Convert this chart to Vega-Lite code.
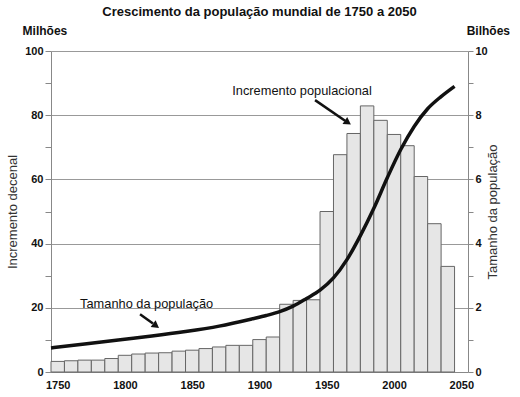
{
  "$schema": "https://vega.github.io/schema/vega-lite/v6.json",
  "width": 417,
  "height": 321,
  "autosize": "none",
  "padding": {"left": 51, "top": 51, "right": 52, "bottom": 25},
  "background": "white",
  "title": {"text": "Crescimento da população mundial de 1750 a 2050", "font": "Liberation Sans", "fontSize": 13, "fontWeight": "bold", "color": "#111", "offset": 6, "anchor": "middle"},
  "config": {"view": {"stroke": null}, "font": "Liberation Sans"},
  "datasets": {
    "barras": [
      {"de": 1750, "ate": 1760, "incremento": 3.3},
      {"de": 1760, "ate": 1770, "incremento": 3.5},
      {"de": 1770, "ate": 1780, "incremento": 3.7},
      {"de": 1780, "ate": 1790, "incremento": 3.7},
      {"de": 1790, "ate": 1800, "incremento": 4.2},
      {"de": 1800, "ate": 1810, "incremento": 5.2},
      {"de": 1810, "ate": 1820, "incremento": 5.6},
      {"de": 1820, "ate": 1830, "incremento": 5.9},
      {"de": 1830, "ate": 1840, "incremento": 6.0},
      {"de": 1840, "ate": 1850, "incremento": 6.5},
      {"de": 1850, "ate": 1860, "incremento": 6.8},
      {"de": 1860, "ate": 1870, "incremento": 7.3},
      {"de": 1870, "ate": 1880, "incremento": 7.8},
      {"de": 1880, "ate": 1890, "incremento": 8.3},
      {"de": 1890, "ate": 1900, "incremento": 8.3},
      {"de": 1900, "ate": 1910, "incremento": 10.1},
      {"de": 1910, "ate": 1920, "incremento": 10.9},
      {"de": 1920, "ate": 1930, "incremento": 21.1},
      {"de": 1930, "ate": 1940, "incremento": 22.3},
      {"de": 1940, "ate": 1950, "incremento": 22.5},
      {"de": 1950, "ate": 1960, "incremento": 50.0},
      {"de": 1960, "ate": 1970, "incremento": 67.7},
      {"de": 1970, "ate": 1980, "incremento": 74.3},
      {"de": 1980, "ate": 1990, "incremento": 82.9},
      {"de": 1990, "ate": 2000, "incremento": 78.4},
      {"de": 2000, "ate": 2010, "incremento": 74.0},
      {"de": 2010, "ate": 2020, "incremento": 70.5},
      {"de": 2020, "ate": 2030, "incremento": 60.9},
      {"de": 2030, "ate": 2040, "incremento": 46.2},
      {"de": 2040, "ate": 2050, "incremento": 32.9}
    ],
    "populacao": [
      {"ano": 1750, "bilhoes": 0.75},
      {"ano": 1775, "bilhoes": 0.87},
      {"ano": 1800, "bilhoes": 1.0},
      {"ano": 1825, "bilhoes": 1.12},
      {"ano": 1850, "bilhoes": 1.26},
      {"ano": 1875, "bilhoes": 1.43},
      {"ano": 1900, "bilhoes": 1.66},
      {"ano": 1910, "bilhoes": 1.76},
      {"ano": 1920, "bilhoes": 1.88},
      {"ano": 1930, "bilhoes": 2.05},
      {"ano": 1940, "bilhoes": 2.29},
      {"ano": 1950, "bilhoes": 2.55},
      {"ano": 1960, "bilhoes": 2.93},
      {"ano": 1970, "bilhoes": 3.5},
      {"ano": 1980, "bilhoes": 4.25},
      {"ano": 1990, "bilhoes": 5.1},
      {"ano": 2000, "bilhoes": 6.05},
      {"ano": 2010, "bilhoes": 6.93},
      {"ano": 2020, "bilhoes": 7.65},
      {"ano": 2030, "bilhoes": 8.2},
      {"ano": 2040, "bilhoes": 8.58},
      {"ano": 2050, "bilhoes": 8.9}
    ],
    "rotulos": [
      {"texto": "Incremento populacional", "ano": 1936.6, "valor": 87.6},
      {"texto": "Tamanho da população", "ano": 1821.1, "valor": 21.1}
    ],
    "unidades": [
      {"texto": "Milhões", "ano": 1745.5, "valor": 106.3},
      {"texto": "Bilhões", "ano": 2075.1, "valor": 106.3}
    ],
    "setas": [
      {"ano": 1946.3, "valor": 84.7, "ano2": 1968.6, "valor2": 78.3},
      {"ano": 1816.2, "valor": 18.0, "ano2": 1825.8, "valor2": 15.1}
    ],
    "pontas": [
      {"ano": 1970.7, "valor": 77.7, "angulo": 34},
      {"ano": 1828.1, "valor": 14.4, "angulo": 36}
    ]
  },
  "layer": [
    {
      "data": {"name": "barras"},
      "mark": {"type": "bar", "fill": "#e6e6e6", "stroke": "#666666", "strokeWidth": 1},
      "encoding": {
        "x": {"field": "de", "type": "quantitative", "scale": {"domain": [1750, 2060], "nice": false, "zero": false},
          "axis": {"title": null, "values": [1755, 1805, 1855, 1905, 1955, 2005, 2055], "labelExpr": "'' + (datum.value - 5)", "ticks": false, "grid": false, "domainColor": "#888888", "labelFont": "Liberation Sans", "labelFontSize": 11, "labelFontWeight": "bold", "labelColor": "#111111", "labelPadding": 7}},
        "x2": {"field": "ate"},
        "y": {"field": "incremento", "type": "quantitative", "scale": {"domain": [0, 100], "nice": false},
          "axis": {"orient": "left", "title": "Incremento decenal", "titleFont": "Liberation Sans", "titleFontSize": 13, "titleFontWeight": "normal", "titleColor": "#333333", "titlePadding": 5,
            "values": [0, 10, 20, 30, 40, 50, 60, 70, 80, 90, 100],
            "labelExpr": "datum.value % 20 == 0 ? datum.label : ''",
            "labelFont": "Liberation Sans", "labelFontSize": 11, "labelFontWeight": "bold", "labelColor": "#111111", "labelPadding": 2,
            "tickSize": 6, "tickColor": "#888888", "domainColor": "#888888",
            "grid": true, "gridColor": "#999999", "gridWidth": 1,
            "gridOpacity": {"condition": {"test": "datum.value % 20 != 0 || datum.value == 0", "value": 0}, "value": 1}}},
        "y2": {"datum": 0}
      }
    },
    {
      "data": {"name": "populacao"},
      "mark": {"type": "line", "color": "#111111", "strokeWidth": 3.5, "interpolate": "monotone"},
      "encoding": {
        "x": {"field": "ano", "type": "quantitative"},
        "y": {"field": "bilhoes", "type": "quantitative", "scale": {"domain": [0, 10], "nice": false},
          "axis": {"orient": "right", "title": "Tamanho da população", "titleFont": "Liberation Sans", "titleFontSize": 13, "titleFontWeight": "normal", "titleColor": "#333333", "titlePadding": 12, "titleAngle": 270,
            "values": [0, 1, 2, 3, 4, 5, 6, 7, 8, 9, 10],
            "labelExpr": "datum.value % 2 == 0 ? datum.label : ''",
            "labelFont": "Liberation Sans", "labelFontSize": 11, "labelFontWeight": "bold", "labelColor": "#111111", "labelPadding": 2,
            "tickSize": 5, "tickColor": "#888888", "domainColor": "#888888", "grid": false}}
      }
    },
    {
      "data": {"name": "setas"},
      "mark": {"type": "rule", "color": "#111111", "strokeWidth": 2.5},
      "encoding": {
        "x": {"field": "ano", "type": "quantitative"},
        "x2": {"field": "ano2"},
        "y": {"field": "valor", "type": "quantitative", "scale": {"domain": [0, 100], "nice": false}, "axis": null},
        "y2": {"field": "valor2"}
      }
    },
    {
      "data": {"name": "pontas"},
      "mark": {"type": "point", "shape": "triangle-right", "filled": true, "color": "#111111", "size": 70, "opacity": 1},
      "encoding": {
        "x": {"field": "ano", "type": "quantitative"},
        "y": {"field": "valor", "type": "quantitative", "scale": {"domain": [0, 100], "nice": false}, "axis": null},
        "angle": {"field": "angulo", "type": "quantitative", "scale": null}
      }
    },
    {
      "data": {"name": "rotulos"},
      "mark": {"type": "text", "font": "Liberation Sans", "fontSize": 12.8, "color": "#111111", "align": "center", "baseline": "middle"},
      "encoding": {
        "x": {"field": "ano", "type": "quantitative"},
        "y": {"field": "valor", "type": "quantitative", "scale": {"domain": [0, 100], "nice": false}, "axis": null},
        "text": {"field": "texto"}
      }
    },
    {
      "data": {"name": "unidades"},
      "mark": {"type": "text", "font": "Liberation Sans", "fontSize": 12, "fontWeight": "bold", "color": "#111111", "align": "center", "baseline": "middle"},
      "encoding": {
        "x": {"field": "ano", "type": "quantitative"},
        "y": {"field": "valor", "type": "quantitative", "scale": {"domain": [0, 100], "nice": false}, "axis": null},
        "text": {"field": "texto"}
      }
    }
  ],
  "resolve": {"scale": {"y": "independent"}}
}
